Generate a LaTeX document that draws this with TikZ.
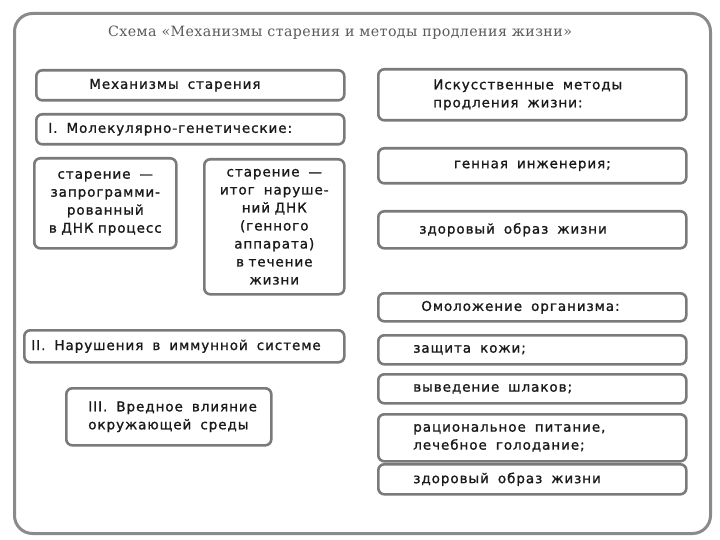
\documentclass[tikz,border=0pt]{standalone}
\usepackage{fontspec}
\setmainfont{DejaVu Sans}[LetterSpace=7,FakeBold=1.2]
\newfontfamily\titlefont{DejaVu Serif}[LetterSpace=3]
\definecolor{boxgray}{HTML}{7A7A7A}
\definecolor{framegray}{HTML}{8A8A8A}
\definecolor{txt}{HTML}{1A1A1A}
\definecolor{titlegray}{HTML}{5A5A5A}
\begin{document}
\begin{tikzpicture}[x=1pt,y=-1pt]
\tikzset{
  box/.style={draw=boxgray, line width=2.6pt, rounded corners=6pt, fill=white,
    anchor=north west, text=txt, inner ysep=0pt,
    font=\fontsize{13.5}{18}\selectfont},
}
\useasboundingbox (0,0) rectangle (720,540);
\fill[white] (0,0) rectangle (720,540);
\node[draw=framegray, line width=3pt, rounded corners=18pt, anchor=north west,
  minimum width=696pt, minimum height=520pt, inner sep=0pt] (frame) at (13,12) {};
\node[font=\titlefont\fontsize{14.2}{16}\selectfont, text=titlegray] (title) at (340,33)
  {Схема «Механизмы старения и методы продления жизни»};
% left column
\node[box, minimum width=308pt, minimum height=30pt, text width=202pt, inner xsep=53pt, align=left] (l1) at (35,69)
  {Механизмы~~старения};
\node[box, minimum width=308pt, minimum height=30pt, text width=284pt, inner xsep=12pt, align=left] (l2) at (35,113)
  {I.~~Молекулярно-генетические:};
\node[box, minimum width=142pt, minimum height=90pt, text width=138pt, inner xsep=2pt, align=center] (l3) at (33,157)
  {старение~~—\\запрограмми-\\рованный\\в~ДНК~процесс};
\node[box, minimum width=140pt, minimum height=135pt, text width=136pt, inner xsep=2pt, align=center] (l4) at (203,158)
  {старение~~—\\итог~~наруше-\\ний~ДНК\\(генного\\аппарата)\\в~течение\\жизни};
\node[box, minimum width=320pt, minimum height=32pt, text width=306pt, inner xsep=7pt, align=left] (l5) at (23,329)
  {II.~~Нарушения~~в~~иммунной~~системе};
\node[box, minimum width=205pt, minimum height=57pt, text width=161pt, inner xsep=22pt, align=left] (l6) at (65,387)
  {III.~~Вредное~~влияние\\окружающей~~среды};
% right column
\node[box, minimum width=308pt, minimum height=51pt, text width=198pt, inner xsep=55pt, align=left] (r1) at (377,68)
  {Искусственные~~методы\\продления~~жизни:};
\node[box, minimum width=308pt, minimum height=35pt, text width=196pt, inner xsep=56pt, align=center] (r2) at (377,147)
  {генная~~инженерия;};
\node[box, minimum width=308pt, minimum height=37pt, text width=226pt, inner xsep=41pt, align=left] (r3) at (377,210)
  {здоровый~~образ~~жизни};
\node[box, minimum width=308pt, minimum height=28pt, text width=222pt, inner xsep=43pt, align=left] (r4) at (377,292)
  {Омоложение~~организма:};
\node[box, minimum width=308pt, minimum height=29pt, text width=238pt, inner xsep=35pt, align=left] (r5) at (377,334)
  {защита~~кожи;};
\node[box, minimum width=308pt, minimum height=29pt, text width=238pt, inner xsep=35pt, align=left] (r6) at (377,373)
  {выведение~~шлаков;};
\node[box, minimum width=308pt, minimum height=47pt, text width=238pt, inner xsep=35pt, align=left] (r7) at (377,413)
  {рациональное~~питание,\\лечебное~~голодание;};
\node[box, minimum width=308pt, minimum height=30pt, text width=238pt, inner xsep=35pt, align=left] (r8) at (377,463)
  {здоровый~~образ~~жизни};
\end{tikzpicture}
\end{document}
